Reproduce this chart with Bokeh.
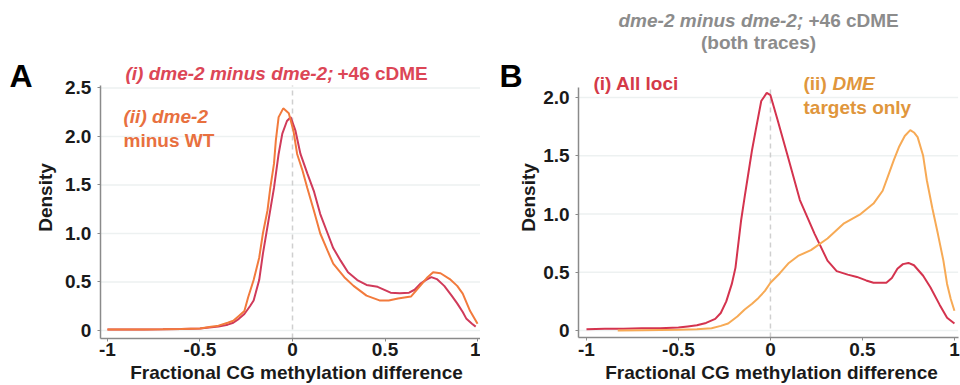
import math
from bokeh.plotting import figure
from bokeh.layouts import row
from bokeh.models import Label, FixedTicker, Range1d
from bokeh.embed import file_html
from bokeh.resources import INLINE

# ---------------- data ----------------
# Panel A, trace (i): dme-2 minus dme-2; +46 cDME
a1_x = [-1.0, -0.9, -0.8, -0.7, -0.6, -0.5, -0.45, -0.4, -0.35, -0.32, -0.29, -0.26, -0.23, -0.21,
        -0.18, -0.16, -0.13, -0.10, -0.075, -0.055, -0.03, -0.01, 0.016, 0.043, 0.08, 0.115, 0.15,
        0.19, 0.22, 0.26, 0.30, 0.35, 0.40, 0.46, 0.53, 0.58, 0.63, 0.66, 0.69, 0.72, 0.75, 0.78,
        0.82, 0.86, 0.89, 0.92, 0.94, 0.97, 0.99]
a1_y = [0.01, 0.01, 0.01, 0.012, 0.015, 0.02, 0.03, 0.04, 0.06, 0.08, 0.12, 0.17, 0.25, 0.31,
        0.52, 0.79, 1.13, 1.47, 1.82, 2.03, 2.16, 2.20, 2.06, 1.82, 1.62, 1.44, 1.20,
        1.00, 0.85, 0.72, 0.60, 0.52, 0.47, 0.45, 0.39, 0.385, 0.39, 0.42, 0.48, 0.52, 0.55, 0.53,
        0.46, 0.36, 0.28, 0.19, 0.12, 0.07, 0.04]

# Panel A, trace (ii): dme-2 minus WT
a2_x = [-1.0, -0.9, -0.8, -0.7, -0.6, -0.5, -0.45, -0.4, -0.35, -0.32, -0.29, -0.26, -0.24, -0.21,
        -0.18, -0.16, -0.135, -0.12, -0.10, -0.09, -0.075, -0.05, -0.02, 0.005, 0.025, 0.054, 0.08,
        0.115, 0.15, 0.19, 0.22, 0.28, 0.33, 0.40, 0.47, 0.52, 0.57, 0.64, 0.69, 0.73, 0.76, 0.80,
        0.85, 0.89, 0.92, 0.96, 1.0]
a2_y = [0.01, 0.01, 0.01, 0.012, 0.015, 0.02, 0.035, 0.05, 0.08, 0.10, 0.15, 0.20, 0.34, 0.52,
        0.75, 1.00, 1.24, 1.47, 1.72, 1.96, 2.20, 2.29, 2.24, 2.06, 1.82, 1.65, 1.47,
        1.24, 1.00, 0.82, 0.69, 0.55, 0.46, 0.36, 0.31, 0.31, 0.33, 0.35, 0.46, 0.55, 0.60, 0.59,
        0.53, 0.46, 0.38, 0.20, 0.07]

# Panel B, trace (i): all loci
b1_x = [-1.0, -0.9, -0.8, -0.7, -0.6, -0.5, -0.45, -0.4, -0.35, -0.3, -0.27, -0.24, -0.21, -0.19,
        -0.16, -0.14, -0.12, -0.10, -0.08, -0.05, -0.02, 0.0, 0.04, 0.09, 0.16, 0.24, 0.31, 0.36,
        0.42, 0.47, 0.52, 0.56, 0.60, 0.63, 0.66, 0.69, 0.72, 0.75, 0.78, 0.83, 0.87, 0.92, 0.96, 1.0]
b1_y = [0.01, 0.015, 0.015, 0.02, 0.02, 0.025, 0.035, 0.045, 0.065, 0.10, 0.15, 0.25, 0.40, 0.54,
        0.94, 1.15, 1.35, 1.55, 1.72, 1.97, 2.04, 2.02, 1.80, 1.52, 1.12, 0.83, 0.60, 0.51,
        0.48, 0.46, 0.43, 0.41, 0.41, 0.41, 0.45, 0.53, 0.57, 0.58, 0.56, 0.47, 0.37, 0.22, 0.11, 0.06]

# Panel B, trace (ii): DME targets only
b2_x = [-0.83, -0.7, -0.6, -0.5, -0.4, -0.32, -0.27, -0.23, -0.18, -0.14, -0.10, -0.065, -0.03, 0.0,
        0.05, 0.10, 0.15, 0.22, 0.31, 0.40, 0.49, 0.56, 0.61, 0.64, 0.67, 0.70, 0.73, 0.76, 0.78,
        0.80, 0.83, 0.85, 0.88, 0.91, 0.94, 0.96, 0.98, 1.0]
b2_y = [0.0, 0.002, 0.004, 0.006, 0.01, 0.02, 0.04, 0.06, 0.12, 0.18, 0.23, 0.28, 0.34, 0.41,
        0.49, 0.58, 0.64, 0.69, 0.79, 0.92, 1.00, 1.09, 1.20, 1.33, 1.46, 1.58, 1.67, 1.72, 1.70,
        1.66, 1.50, 1.29, 1.05, 0.83, 0.60, 0.40, 0.27, 0.17]

x_ticks = [-1, -0.5, 0, 0.5, 1]
x_tick_labels = ["-1", "-0.5", "0", "0.5", "1"]
a_y_ticks = [0, 0.5, 1.0, 1.5, 2.0, 2.5]
b_y_ticks = [0, 0.5, 1.0, 1.5, 2.0]
y_tick_labels = ["0", "0.5", "1.0", "1.5", "2.0", "2.5"]
x_title = "Fractional CG methylation difference"
y_title = "Density"

FONT = "Liberation Sans"
RED_A = "#d03a5a"
ORANGE_A = "#f27a3c"
RED_B = "#d4334e"
ORANGE_B = "#f7aa55"
H = 385


def make_panel(xr, yr, ax_x, ax_y, yticks):
    # frame covers the whole figure; both axes are drawn at fixed data locations
    p = figure(width=480, height=H, output_backend="svg", toolbar_location=None,
               x_range=Range1d(*xr), y_range=Range1d(*yr),
               min_border_left=0, min_border_right=0,
               min_border_top=0, min_border_bottom=0)
    p.outline_line_color = None
    p.background_fill_color = "white"
    p.border_fill_color = "white"
    p.xgrid.grid_line_color = None
    p.ygrid.grid_line_color = None
    p.xaxis.ticker = FixedTicker(ticks=x_ticks)
    p.xaxis.major_label_overrides = {t: l for t, l in zip(x_ticks, x_tick_labels)}
    p.yaxis.ticker = FixedTicker(ticks=yticks)
    p.yaxis.major_label_overrides = {t: l for t, l in zip(a_y_ticks, y_tick_labels)}
    p.yaxis.fixed_location = ax_x[0]
    p.xaxis.fixed_location = ax_y[0]
    p.yaxis.bounds = ax_y
    p.xaxis.bounds = ax_x
    for ax in (p.xaxis[0], p.yaxis[0]):
        ax.axis_line_color = "#8a8a8a"
        ax.axis_line_width = 1.5
        ax.major_tick_line_color = "#8a8a8a"
        ax.major_tick_out = 3
        ax.major_tick_in = 0
        ax.minor_tick_line_color = None
        ax.major_label_text_font = FONT
        ax.major_label_text_font_style = "bold"
        ax.major_label_text_font_size = "19px"
        ax.major_label_text_color = "#1a1a1a"
    p.xaxis.major_label_standoff = 2
    p.yaxis.major_label_standoff = 6
    # horizontal grid lines at y ticks, spanning the axis extent
    p.segment(x0=[ax_x[0]] * len(yticks), y0=yticks, x1=[ax_x[1]] * len(yticks), y1=yticks,
              line_color="#edf1f1", line_width=1.5, level="underlay")
    # dashed reference line at zero difference
    p.segment(x0=[0], y0=[ax_y[0]], x1=[0], y1=[ax_y[1]], line_color="#cfcfcf",
              line_dash="5 4", line_width=1.5, level="underlay")
    return p


def add_text(p, px, py, text, color, size="19px", style="bold", align="left", angle=0.0):
    p.add_layout(Label(x=px, y=H - py, x_units="screen", y_units="screen",
                       text=text, text_color=color, text_font=FONT,
                       text_font_style=style, text_font_size=size, angle=angle,
                       text_baseline="middle", text_align=align))


# Panel A (canvas x 0..480)
pa = make_panel((-1.578, 1.016), (-0.567, 3.402), (-1.038, 1.016), (-0.082, 2.526), a_y_ticks)
pa.line(a1_x, a1_y, line_color=RED_A, line_width=2)
pa.line(a2_x, a2_y, line_color=ORANGE_A, line_width=2)
add_text(pa, 9, 75, "A", "#000000", size="32px")
add_text(pa, 125, 73, "(i) dme-2 minus dme-2;", "#dc4656", style="bold italic")
add_text(pa, 337, 73, "+46 cDME", "#dc4656")
add_text(pa, 123, 116, "(ii) dme-2", "#e8703f", style="bold italic")
add_text(pa, 123, 140, "minus WT", "#e8703f")
add_text(pa, 296, 372, x_title, "#1a1a1a", align="center")
add_text(pa, 45, 197, y_title, "#1a1a1a", align="center", angle=math.pi / 2)

# Panel B (canvas x 480..960)
pb = make_panel((-1.576, 1.033), (-0.472, 2.833), (-1.043, 1.02), (-0.06, 2.086), b_y_ticks)
pb.line(b1_x, b1_y, line_color=RED_B, line_width=2)
pb.line(b2_x, b2_y, line_color=ORANGE_B, line_width=2)
add_text(pb, 19, 75, "B", "#000000", size="32px")
add_text(pb, 138, 20, "dme-2 minus dme-2;", "#8c8c8c", style="bold italic")
add_text(pb, 328, 20, "+46 cDME", "#8c8c8c")
add_text(pb, 278, 42, "(both traces)", "#8c8c8c", align="center")
add_text(pb, 113, 83, "(i) All loci", "#d43a48")
add_text(pb, 323, 83, "(ii)", "#e0963c")
add_text(pb, 352, 83, "DME", "#e0963c", style="bold italic")
add_text(pb, 323, 107, "targets only", "#e0963c")
add_text(pb, 291, 372, x_title, "#1a1a1a", align="center")
add_text(pb, 48, 197, y_title, "#1a1a1a", align="center", angle=math.pi / 2)

layout = row(pa, pb)
open("out.html", "w").write(file_html(layout, INLINE))
